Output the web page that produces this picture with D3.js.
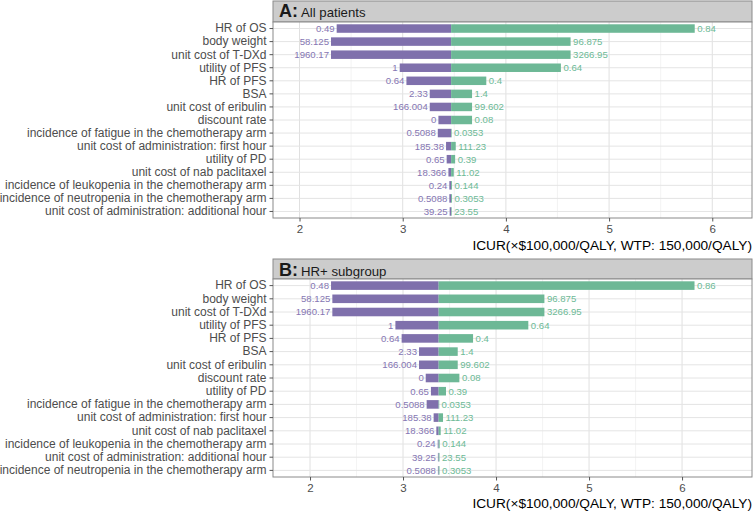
<!DOCTYPE html>
<html><head><meta charset="utf-8">
<script src="https://cdn.jsdelivr.net/npm/d3@7"></script>
<style>body{margin:0;background:#fff;} svg{display:block;font-family:"Liberation Sans",Arial,sans-serif;}</style>
</head><body>
<script>
// ---- Data ----
const paramsA = ["HR of OS","body weight","unit cost of T-DXd","utility of PFS","HR of PFS","BSA","unit cost of eribulin","discount rate","incidence of fatigue in the chemotherapy arm","unit cost of administration: first hour","utility of PD","unit cost of nab paclitaxel","incidence of leukopenia in the chemotherapy arm","incidence of neutropenia in the chemotherapy arm","unit cost of administration: additional hour"];
const lowIcurA  = [2.36,2.305,2.305,2.971,3.036,3.262,3.262,3.346,3.34,3.42,3.426,3.443,3.452,3.452,3.455];
const highIcurA = [5.83,4.627,4.627,4.533,3.81,3.672,3.672,3.672,3.472,3.514,3.508,3.495,3.478,3.478,3.475];
const lowLabelA  = ["0.49","58.125","1960.17","1","0.64","2.33","166.004","0","0.5088","185.38","0.65","18.366","0.24","0.5088","39.25"];
const highLabelA = ["0.84","96.875","3266.95","0.64","0.4","1.4","99.602","0.08","0.0353","111.23","0.39","11.02","0.144","0.3053","23.55"];
const baseA = 3.469;

const paramsB = ["HR of OS","body weight","unit cost of T-DXd","utility of PFS","HR of PFS","BSA","unit cost of eribulin","discount rate","utility of PD","incidence of fatigue in the chemotherapy arm","unit cost of administration: first hour","unit cost of nab paclitaxel","incidence of leukopenia in the chemotherapy arm","unit cost of administration: additional hour","incidence of neutropenia in the chemotherapy arm"];
const lowIcurB  = [2.226,2.24,2.24,2.918,2.985,3.172,3.172,3.244,3.30,3.254,3.329,3.358,3.373,3.375,3.375];
const highIcurB = [6.134,4.52,4.52,4.347,3.753,3.588,3.588,3.606,3.462,3.387,3.43,3.405,3.394,3.392,3.392];
const lowLabelB  = ["0.48","58.125","1960.17","1","0.64","2.33","166.004","0","0.65","0.5088","185.38","18.366","0.24","39.25","0.5088"];
const highLabelB = ["0.86","96.875","3266.95","0.64","0.4","1.4","99.602","0.08","0.39","0.0353","111.23","11.02","0.144","23.55","0.3053"];
const baseB = 3.383;

const xTicks = [2,3,4,5,6];
const xMinor = [2.5,3.5,4.5,5.5];
const axisTitle = "ICUR(×$100,000/QALY, WTP: 150,000/QALY)";

// ---- Layout ----
const W = 753, H = 514;
const svg = d3.select("body").append("svg").attr("width",W).attr("height",H);
const purple = "#7F70AC", green = "#6DB896";
const purpleText = "#8576B3", greenText = "#6DBA96";

function panel(o){
  const g = svg.append("g");
  const x = d3.scaleLinear().domain(o.xdom).range([o.left,o.right]);
  const y = d3.scaleBand().domain(o.params).range([o.top,o.bottom]).paddingOuter(0).paddingInner(0);
  const yc = d => y(d)+y.bandwidth()/2;
  const bh = y.bandwidth()*0.65;
  // strip
  g.append("rect").attr("x",o.left).attr("y",o.stripTop).attr("width",o.right-o.left).attr("height",o.top-o.stripTop)
    .attr("fill","#cccccc").attr("stroke","#8a8a8a").attr("stroke-width",1);
  const st = g.append("text").attr("x",o.left+6).attr("y",o.stripBase).attr("fill","#1a1a1a");
  st.append("tspan").attr("font-weight","bold").attr("font-size",18).text(o.letter+":");
  st.append("tspan").attr("font-size",13.2).attr("dx",3).text(o.title);
  // background grid
  g.append("rect").attr("x",o.left).attr("y",o.top).attr("width",o.right-o.left).attr("height",o.bottom-o.top).attr("fill","#fff");
  g.selectAll(".minor").data(xMinor).join("line").attr("x1",d=>x(d)).attr("x2",d=>x(d)).attr("y1",o.top).attr("y2",o.bottom)
    .attr("stroke","#f0f0f0").attr("stroke-width",0.8);
  g.selectAll(".major").data(xTicks).join("line").attr("x1",d=>x(d)).attr("x2",d=>x(d)).attr("y1",o.top).attr("y2",o.bottom)
    .attr("stroke","#e0e0e0").attr("stroke-width",1);
  g.selectAll(".hgrid").data(o.params).join("line").attr("x1",o.left).attr("x2",o.right).attr("y1",d=>yc(d)).attr("y2",d=>yc(d))
    .attr("stroke","#e4e4e4").attr("stroke-width",1);
  const rows = o.params.map((p,i)=>({p,lo:o.lo[i],hi:o.hi[i],ll:o.ll[i],hl:o.hl[i]}));
  // bars
  g.selectAll(".pb").data(rows).join("rect").attr("x",d=>x(d.lo)).attr("width",d=>x(o.base)-x(d.lo))
    .attr("y",d=>yc(d.p)-bh/2).attr("height",bh).attr("fill",purple);
  g.selectAll(".gb").data(rows).join("rect").attr("x",x(o.base)).attr("width",d=>Math.max(0.6,x(d.hi)-x(o.base)))
    .attr("y",d=>yc(d.p)-bh/2).attr("height",bh).attr("fill",green);
  g.selectAll(".pl").data(rows).join("text").attr("x",d=>x(d.lo)-2).attr("y",d=>yc(d.p)+3.4)
    .attr("text-anchor","end").attr("font-size",9.6).attr("fill",purpleText).text(d=>d.ll);
  g.selectAll(".gl").data(rows).join("text").attr("x",d=>x(d.hi)+2.5).attr("y",d=>yc(d.p)+3.4)
    .attr("font-size",9.6).attr("fill",greenText).text(d=>d.hl);
  // border
  g.append("rect").attr("x",o.left).attr("y",o.top).attr("width",o.right-o.left).attr("height",o.bottom-o.top)
    .attr("fill","none").attr("stroke","#8a8a8a").attr("stroke-width",1);
  // y axis
  const ya = g.append("g").attr("transform",`translate(${o.left},0)`)
    .call(d3.axisLeft(y).tickSize(3.5).tickPadding(3));
  ya.select(".domain").remove();
  ya.selectAll(".tick line").attr("stroke","#555");
  ya.selectAll(".tick text").attr("font-size",12).attr("fill","#4d4d4d").attr("font-family","Liberation Sans, Arial, sans-serif");
  // x axis
  const xa = g.append("g").attr("transform",`translate(0,${o.bottom})`)
    .call(d3.axisBottom(x).tickValues(xTicks).tickSize(3.5).tickPadding(3).tickFormat(d3.format("d")));
  xa.select(".domain").remove();
  xa.selectAll(".tick line").attr("stroke","#555");
  xa.selectAll(".tick text").attr("font-size",11.5).attr("fill","#4d4d4d").attr("font-family","Liberation Sans, Arial, sans-serif");
  g.append("text").attr("x",o.right).attr("y",o.titleBase).attr("text-anchor","end").attr("font-size",13.7)
    .attr("fill","#000").text(axisTitle);
}

panel({params:paramsA, lo:lowIcurA, hi:highIcurA, ll:lowLabelA, hl:highLabelA, base:baseA,
  xdom:[1.743,6.385], left:273, right:752, stripTop:1, top:22, bottom:218, stripBase:16.5, titleBase:250,
  letter:"A", title:"All patients"});
panel({params:paramsB, lo:lowIcurB, hi:highIcurB, ll:lowLabelB, hl:highLabelB, base:baseB,
  xdom:[1.602,6.752], left:273, right:752, stripTop:259, top:279, bottom:477, stripBase:276, titleBase:508,
  letter:"B", title:"HR+ subgroup"});
</script>
</body></html>
